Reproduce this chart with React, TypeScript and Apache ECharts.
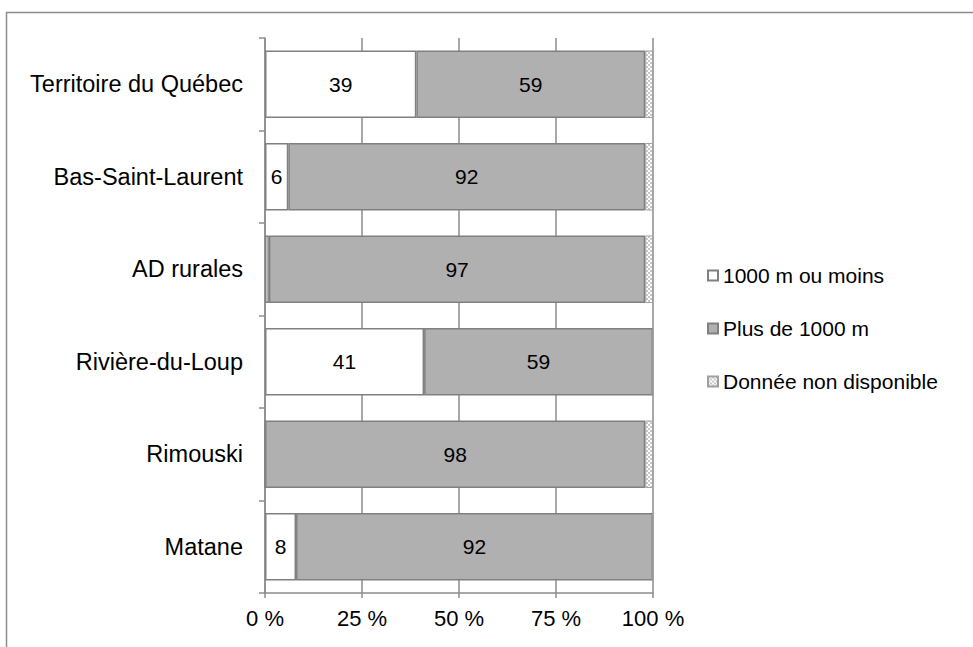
import React, { useEffect, useRef } from "react";
import * as echarts from "echarts";

const categories = [
  "Territoire du Québec",
  "Bas-Saint-Laurent",
  "AD rurales",
  "Rivière-du-Loup",
  "Rimouski",
  "Matane",
];
const seriesNames = ["1000 m ou moins", "Plus de 1000 m", "Donnée non disponible"];
const valuesNear = [39, 6, 1, 41, 0, 8];
const valuesFar = [59, 92, 97, 59, 98, 92];
const valuesNA = [2, 2, 2, 0, 2, 0];
const xTicks = [0, 25, 50, 75, 100];

function makePattern(): HTMLCanvasElement {
  const c = document.createElement("canvas");
  c.width = 4;
  c.height = 4;
  const ctx = c.getContext("2d")!;
  ctx.fillStyle = "#ffffff";
  ctx.fillRect(0, 0, 4, 4);
  ctx.fillStyle = "#c8c8c8";
  ctx.fillRect(0, 0, 2, 2);
  ctx.fillRect(2, 2, 2, 2);
  return c;
}

export default function App() {
  const ref = useRef<HTMLDivElement>(null);
  useEffect(() => {
    if (!ref.current) return;
    const chart = echarts.init(ref.current, undefined, { renderer: "svg" });
    const font = "'Liberation Sans', Arial, sans-serif";
    const pattern = makePattern();
    const labelFmt = (p: any) => (p.value >= 5 ? String(p.value) : "");
    const rev = (a: number[]) => a.slice().reverse();
    chart.setOption({
      animation: false,
      backgroundColor: "#ffffff",
      textStyle: { fontFamily: font },
      graphic: [
        {
          type: "rect",
          left: 4,
          top: 10,
          shape: { width: 1200, height: 1000 },
          style: { fill: "none", stroke: "#8c8c8c", lineWidth: 1.5 },
          silent: true,
        },
      ],
      grid: { left: 265, right: 320, top: 38, bottom: 54, containLabel: false },
      legend: {
        orient: "vertical",
        left: 702,
        top: 260,
        itemWidth: 10,
        itemHeight: 10,
        itemGap: 32,
        icon: "rect",
        textStyle: { fontSize: 21, color: "#000", fontFamily: font },
        data: seriesNames,
      },
      xAxis: {
        type: "value",
        min: 0,
        max: 100,
        interval: 25,
        axisLine: { show: true, lineStyle: { color: "#8c8c8c", width: 1.5 } },
        axisTick: { show: true, length: 5, lineStyle: { color: "#8c8c8c", width: 1.5 } },
        axisLabel: {
          color: "#000",
          fontSize: 22,
          margin: 14,
          fontFamily: font,
          formatter: (v: number) => (xTicks.includes(v) ? v + " %" : ""),
        },
        splitLine: { show: true, lineStyle: { color: "#8c8c8c", width: 1.5 } },
      },
      yAxis: {
        type: "category",
        data: rev(categories),
        axisLine: { show: true, lineStyle: { color: "#8c8c8c", width: 1.5 } },
        axisTick: { show: true, length: 6, lineStyle: { color: "#8c8c8c", width: 1.5 } },
        axisLabel: { color: "#000", fontSize: 23.5, margin: 22, fontFamily: font },
      },
      series: [
        {
          name: seriesNames[0],
          type: "bar",
          stack: "s",
          barCategoryGap: "27%",
          data: rev(valuesNear),
          itemStyle: { color: "#ffffff", borderColor: "#808080", borderWidth: 1.5 },
          label: { show: true, position: "inside", color: "#000", fontSize: 21, fontFamily: font, formatter: labelFmt },
        },
        {
          name: seriesNames[1],
          type: "bar",
          stack: "s",
          data: rev(valuesFar),
          itemStyle: { color: "#b0b0b0", borderColor: "#808080", borderWidth: 1.5 },
          label: { show: true, position: "inside", color: "#000", fontSize: 21, fontFamily: font, formatter: labelFmt },
        },
        {
          name: seriesNames[2],
          type: "bar",
          stack: "s",
          data: rev(valuesNA),
          itemStyle: {
            color: { image: pattern, repeat: "repeat" } as any,
            borderColor: "#a0a0a0",
            borderWidth: 1,
          },
          label: { show: false },
        },
      ],
    });
    return () => chart.dispose();
  }, []);
  return (
    <div
      ref={ref}
      style={{ position: "fixed", left: 0, top: 0, width: 973, height: 647, background: "#fff" }}
    />
  );
}
